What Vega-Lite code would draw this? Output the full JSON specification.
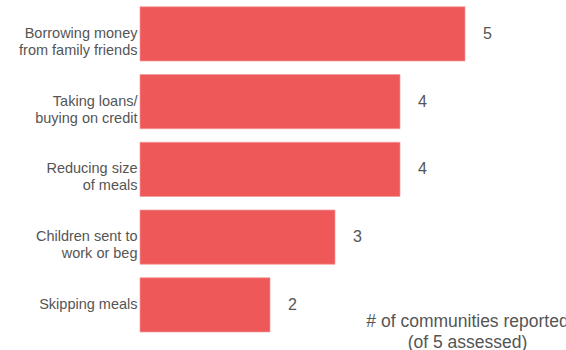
{
  "$schema": "https://vega.github.io/schema/vega-lite/v6.json",
  "width": 429,
  "height": 338.75,
  "autosize": {"type": "none"},
  "padding": {"left": 140, "top": 0, "right": 0, "bottom": 12},
  "background": "white",
  "config": {
    "view": {"stroke": null},
    "font": "Liberation Sans"
  },
  "data": {
    "values": [
      {"strategy": "Borrowing money|from family friends", "count": 5},
      {"strategy": "Taking loans/|buying on credit", "count": 4},
      {"strategy": "Reducing size|of meals", "count": 4},
      {"strategy": "Children sent to|work or beg", "count": 3},
      {"strategy": "Skipping meals", "count": 2}
    ]
  },
  "encoding": {
    "y": {
      "field": "strategy",
      "type": "nominal",
      "sort": null,
      "scale": {"paddingInner": 0.2, "paddingOuter": 0.1},
      "axis": {
        "title": null,
        "ticks": false,
        "domain": false,
        "labelPadding": 3,
        "labelFontSize": 14.5,
        "labelColor": "#555555",
        "labelLineHeight": 17,
        "labelLimit": 200,
        "labelExpr": "split(datum.value, '|')"
      }
    },
    "x": {
      "field": "count",
      "type": "quantitative",
      "scale": {"domain": [0, 6.6], "nice": false},
      "axis": {
        "labels": false,
        "ticks": false,
        "domain": false,
        "grid": false,
        "title": ["# of communities reported", "(of 5 assessed)"],
        "titleFontSize": 17.5,
        "titleFontWeight": "normal",
        "titleColor": "#555555",
        "titleLineHeight": 21,
        "titleAlign": "center",
        "titleBaseline": "alphabetic",
        "titleAnchor": "start",
        "titleX": 327,
        "titleY": -12.75
      }
    }
  },
  "layer": [
    {
      "mark": {"type": "bar", "color": "#EE5859", "stroke": "#F49A9A", "strokeWidth": 0.7}
    },
    {
      "mark": {"type": "text", "align": "left", "baseline": "middle", "dx": 18, "fontSize": 16, "color": "#555555"},
      "encoding": {"text": {"field": "count", "type": "quantitative"}}
    }
  ]
}
